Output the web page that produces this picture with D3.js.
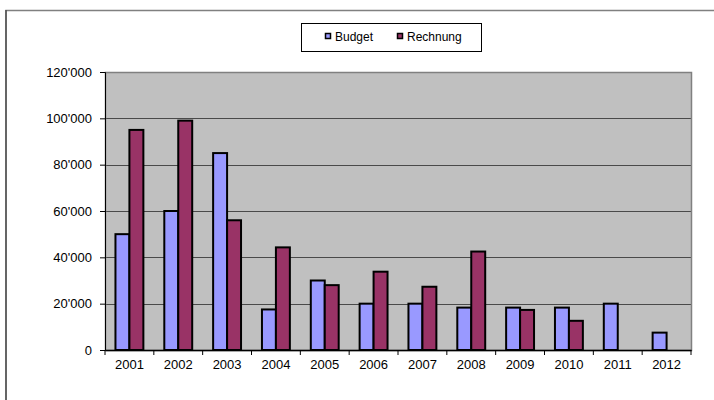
<!DOCTYPE html>
<html><head><meta charset="utf-8">
<script src="https://cdn.jsdelivr.net/npm/d3@7"></script>
<style>body{margin:0;background:#fff;}svg{display:block;font-family:"Liberation Sans",Arial,sans-serif;}</style>
</head><body>
<script>
const years = ["2001","2002","2003","2004","2005","2006","2007","2008","2009","2010","2011","2012"];
const budget = [50000,60000,85000,17500,30000,20000,20000,18300,18300,18300,20000,7500];
const rechnung = [95000,99000,56000,44300,28000,33800,27300,42500,17300,12600,null,null];
const seriesNames = ["Budget","Rechnung"];
const colors = ["#9999ff","#993366"];
const yTicks = [0,20000,40000,60000,80000,100000,120000];

const W=714,H=400;
const svg=d3.select("body").append("svg").attr("width",W).attr("height",H);
// outer frame
svg.append("rect").attr("x",6).attr("y",10.5).attr("width",W+20).attr("height",H+20)
  .attr("fill","none").attr("stroke","#808080").attr("stroke-width",1.5);
svg.append("line").attr("x1",6).attr("x2",6).attr("y1",10).attr("y2",H).attr("stroke","#404040").attr("stroke-width",1.2);

const m={l:105,r:691,t:72,b:350};
const x=d3.scaleBand().domain(years).range([m.l,m.r]).paddingInner(0).paddingOuter(0);
const y=d3.scaleLinear().domain([0,120000]).range([m.b,m.t]);
const bw=x.bandwidth()/3.5;
const gap=x.bandwidth()*0.75/3.5;

svg.append("rect").attr("x",m.l).attr("y",m.t).attr("width",m.r-m.l).attr("height",m.b-m.t)
  .attr("fill","#c0c0c0");
// gridlines
svg.append("g").selectAll("line").data(yTicks.filter(d=>d>0)).join("line")
  .attr("x1",m.l).attr("x2",m.r).attr("y1",d=>Math.round(y(d))+0.5).attr("y2",d=>Math.round(y(d))+0.5)
  .attr("stroke","#4a4a4a").attr("stroke-width",1);
svg.append("rect").attr("x",m.l+0.5).attr("y",m.t+0.5).attr("width",m.r-m.l).attr("height",m.b-m.t)
  .attr("fill","none").attr("stroke","#808080").attr("stroke-width",1.5);

const fmt=d=>d3.format(",")(d).replace(/,/g,"'");
// y axis
const ya=svg.append("g").attr("transform",`translate(${m.l},0)`)
  .call(d3.axisLeft(y).tickValues(yTicks).tickFormat(fmt).tickSize(5).tickPadding(8));
ya.select(".domain").attr("stroke","#000");
ya.selectAll(".tick line").attr("stroke","#000");
ya.selectAll("text").attr("font-size","13px").attr("fill","#000").attr("font-family","Liberation Sans, Arial, sans-serif");

// bars
const data=[budget,rechnung];
data.forEach((vals,si)=>{
  svg.append("g").selectAll("rect").data(years.map((yr,i)=>({yr,v:vals[i]})).filter(d=>d.v!=null)).join("rect")
    .attr("x",d=>x(d.yr)+gap+si*bw).attr("width",bw)
    .attr("y",d=>y(d.v)).attr("height",d=>y(0)-y(d.v))
    .attr("fill",colors[si]).attr("stroke","#000").attr("stroke-width",2);
});

// x axis
const xa=svg.append("g").attr("transform",`translate(0,${m.b})`)
  .call(d3.axisBottom(x).tickSize(0).tickPadding(10));
xa.select(".domain").attr("stroke","#000").attr("stroke-width",1.5);
xa.selectAll("text").attr("font-size","13px").attr("fill","#000").attr("font-family","Liberation Sans, Arial, sans-serif");
svg.append("g").selectAll("line").data(years.concat(["end"])).join("line")
  .attr("x1",(d,i)=>m.l+i*x.bandwidth()).attr("x2",(d,i)=>m.l+i*x.bandwidth())
  .attr("y1",m.b).attr("y2",m.b+5).attr("stroke","#000");

// legend
const lg=svg.append("g");
lg.append("rect").attr("x",301.5).attr("y",23.5).attr("width",180).attr("height",28)
  .attr("fill","#fff").attr("stroke","#000").attr("stroke-width",1);
const lx=[325,397];
seriesNames.forEach((n,i)=>{
  lg.append("rect").attr("x",lx[i]+0.5).attr("y",33.5).attr("width",5).attr("height",5)
    .attr("fill",colors[i]).attr("stroke","#000").attr("stroke-width",1.5);
  lg.append("text").attr("x",lx[i]+10).attr("y",41).attr("font-size","12px").text(n);
});
</script>
</body></html>
